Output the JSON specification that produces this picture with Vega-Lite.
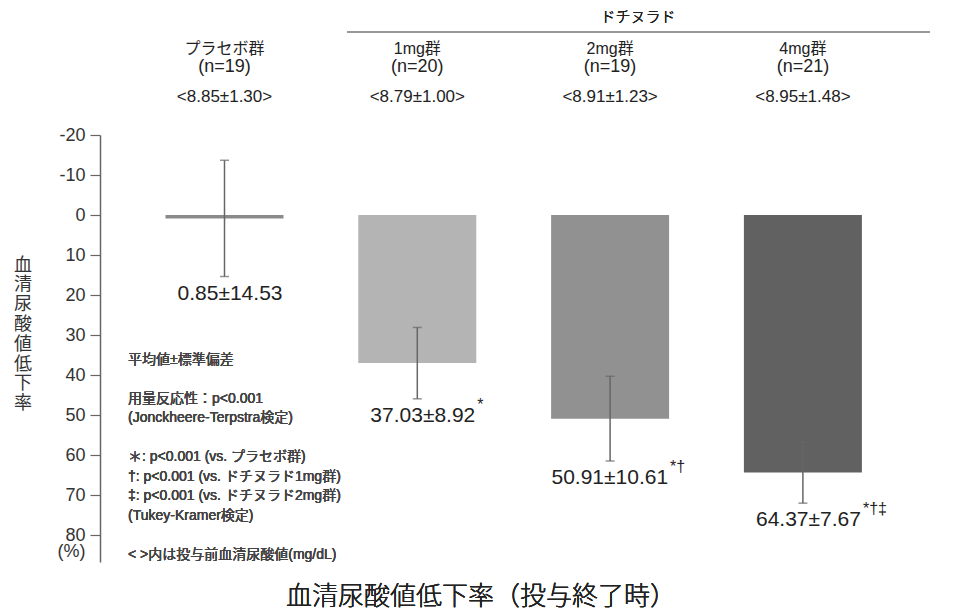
{
  "$schema": "https://vega.github.io/schema/vega-lite/v6.json",
  "width": 856,
  "height": 427,
  "autosize": "none",
  "padding": {"left": 100, "top": 135, "right": 0, "bottom": 49},
  "background": "white",
  "config": {"view": {"stroke": null}, "font": "Liberation Sans"},
  "resolve": {"axis": {"y": "independent"}},
  "data": {
    "values": [
      {"group": "プラセボ群", "n": "(n=19)", "pre": "<8.85±1.30>", "mean": 0.85, "sd": 14.53, "lo": -13.68, "hi": 15.38, "label": "0.85±14.53", "sig": ""},
      {"group": "1mg群", "n": "(n=20)", "pre": "<8.79±1.00>", "mean": 37.03, "sd": 8.92, "lo": 28.11, "hi": 45.95, "label": "37.03±8.92", "sig": "*"},
      {"group": "2mg群", "n": "(n=19)", "pre": "<8.91±1.23>", "mean": 50.91, "sd": 10.61, "lo": 40.30, "hi": 61.52, "label": "50.91±10.61", "sig": "*†"},
      {"group": "4mg群", "n": "(n=21)", "pre": "<8.95±1.48>", "mean": 64.37, "sd": 7.67, "lo": 56.70, "hi": 72.04, "label": "64.37±7.67", "sig": "*†‡"}
    ]
  },
  "encoding": {
    "x": {
      "field": "group", "type": "nominal", "sort": null, "axis": null,
      "scale": {"range": [28.1, 799.3], "paddingInner": 0.388, "paddingOuter": 0.194}
    }
  },
  "layer": [
    {
      "mark": {"type": "bar"},
      "encoding": {
        "y": {
          "field": "mean", "type": "quantitative",
          "scale": {"domain": [-20, 86.75], "reverse": true, "nice": false, "zero": false},
          "axis": {
            "values": [-20, -10, 0, 10, 20, 30, 40, 50, 60, 70, 80, 84.2],
            "labelExpr": "datum.value > 81 ? '(%)' : ((datum.value < 0 ? '-' : '') + abs(datum.value))",
            "labelOverlap": false,
            "tickOpacity": {"condition": {"test": "datum.value > 81", "value": 0}, "value": 1},
            "grid": false,
            "domainColor": "#666666",
            "domainWidth": 1.5,
            "tickColor": "#666666",
            "tickWidth": 1.2,
            "tickSize": 10,
            "labelPadding": 5,
            "labelFontSize": 18,
            "labelColor": "#333333",
            "labelFont": "Liberation Sans",
            "title": ["血", "清", "尿", "酸", "値", "低", "下", "率"],
            "titleFont": "Noto Sans CJK JP",
            "titleFontSize": 18,
            "titleFontWeight": "normal",
            "titleColor": "#333333",
            "titleAngle": 0,
            "titleAlign": "center",
            "titleBaseline": "top",
            "titleLineHeight": 19.8,
            "titleX": -77.5,
            "titleY": 121
          }
        },
        "y2": {"datum": 0},
        "color": {
          "field": "group", "type": "nominal", "sort": null, "legend": null,
          "scale": {"domain": ["プラセボ群", "1mg群", "2mg群", "4mg群"], "range": ["#8a8a8a", "#b4b4b4", "#919191", "#616161"]}
        }
      }
    },
    {
      "mark": {"type": "rule", "color": "#999999", "strokeWidth": 1.5},
      "encoding": {"y": {"datum": 0, "axis": null}}
    },
    {
      "mark": {"type": "rule", "color": "#666666", "strokeWidth": 1.5},
      "encoding": {"y": {"field": "lo", "type": "quantitative", "axis": null}, "y2": {"field": "hi"}}
    },
    {
      "mark": {"type": "tick", "color": "#666666", "size": 9, "thickness": 1.5, "orient": "horizontal"},
      "encoding": {"y": {"field": "lo", "type": "quantitative", "axis": null}}
    },
    {
      "mark": {"type": "tick", "color": "#666666", "size": 9, "thickness": 1.5, "orient": "horizontal"},
      "encoding": {"y": {"field": "hi", "type": "quantitative", "axis": null}}
    },
    {
      "mark": {"type": "text", "align": "right", "baseline": "middle", "dx": 58, "dy": 17, "fontSize": 21, "color": "#222222", "font": "Liberation Sans"},
      "encoding": {"y": {"field": "hi", "type": "quantitative", "axis": null}, "text": {"field": "label"}}
    },
    {
      "mark": {"type": "text", "align": "left", "baseline": "middle", "dx": 60, "dy": 6, "fontSize": 16, "color": "#222222", "font": "Liberation Sans"},
      "encoding": {"y": {"field": "hi", "type": "quantitative", "axis": null}, "text": {"field": "sig"}}
    },
    {
      "mark": {"type": "text", "align": "center", "baseline": "middle", "fontSize": 16, "fontWeight": 400, "color": "#222222", "font": "Liberation Sans, Noto Sans CJK JP"},
      "encoding": {"y": {"datum": -41.5, "axis": null}, "text": {"field": "group"}}
    },
    {
      "mark": {"type": "text", "align": "center", "baseline": "middle", "fontSize": 18, "color": "#222222", "font": "Liberation Sans"},
      "encoding": {"y": {"datum": -37, "axis": null}, "text": {"field": "n"}}
    },
    {
      "mark": {"type": "text", "align": "center", "baseline": "middle", "fontSize": 17, "color": "#222222", "font": "Liberation Sans"},
      "encoding": {"y": {"datum": -29.5, "axis": null}, "text": {"field": "pre"}}
    },
    {
      "mark": {"type": "rule", "color": "#999999", "strokeWidth": 2, "xOffset": -70.3, "x2Offset": 127},
      "encoding": {"x": {"datum": "1mg群"}, "x2": {"datum": "4mg群"}, "y": {"datum": -45.75, "axis": null}}
    },
    {
      "mark": {"type": "text", "align": "center", "baseline": "middle", "fontSize": 15, "fontWeight": 300, "color": "#222222", "font": "Noto Sans CJK JP", "dx": 28},
      "encoding": {"x": {"datum": "2mg群"}, "y": {"datum": -49.5, "axis": null}, "text": {"value": "ドチヌラド"}}
    },
    {
      "mark": {"type": "text", "align": "left", "baseline": "top", "fontSize": 14, "fontWeight": 400, "color": "#444444", "font": "Liberation Sans, Noto Sans CJK JP", "dx": -96.5},
      "encoding": {
        "x": {"datum": "プラセボ群"},
        "y": {"datum": 34.4, "axis": null},
        "text": {"value": "平均値±標準偏差"}
      }
    },
    {
      "mark": {"type": "text", "align": "left", "baseline": "top", "fontSize": 14, "fontWeight": 400, "lineHeight": 19.5, "lineBreak": "\n", "color": "#444444", "font": "Liberation Sans, Noto Sans CJK JP", "dx": -96.5},
      "encoding": {
        "x": {"datum": "プラセボ群"},
        "y": {"datum": 44.15, "axis": null},
        "text": {"value": "用量反応性：p<0.001\n(Jonckheere-Terpstra検定)"}
      }
    },
    {
      "mark": {"type": "text", "align": "left", "baseline": "top", "fontSize": 14, "fontWeight": 400, "lineHeight": 19.5, "lineBreak": "\n", "color": "#444444", "font": "Liberation Sans, Noto Sans CJK JP", "dx": -96.5},
      "encoding": {
        "x": {"datum": "プラセボ群"},
        "y": {"datum": 58.775, "axis": null},
        "text": {"value": "＊: p<0.001 (vs. プラセボ群)\n†: p<0.001 (vs. ドチヌラド1mg群)\n‡: p<0.001 (vs. ドチヌラド2mg群)\n(Tukey-Kramer検定)"}
      }
    },
    {
      "mark": {"type": "text", "align": "left", "baseline": "top", "fontSize": 14, "fontWeight": 400, "color": "#444444", "font": "Liberation Sans, Noto Sans CJK JP", "dx": -96.5},
      "encoding": {
        "x": {"datum": "プラセボ群"},
        "y": {"datum": 83.15, "axis": null},
        "text": {"value": "<  >内は投与前血清尿酸値(mg/dL)"}
      }
    },
    {
      "mark": {"type": "text", "align": "center", "baseline": "middle", "fontSize": 26, "fontWeight": 300, "color": "#222222", "font": "Noto Sans CJK JP", "dx": -129},
      "encoding": {"x": {"datum": "2mg群"}, "y": {"datum": 95.6, "axis": null}, "text": {"value": "血清尿酸値低下率（投与終了時）"}}
    }
  ]
}
